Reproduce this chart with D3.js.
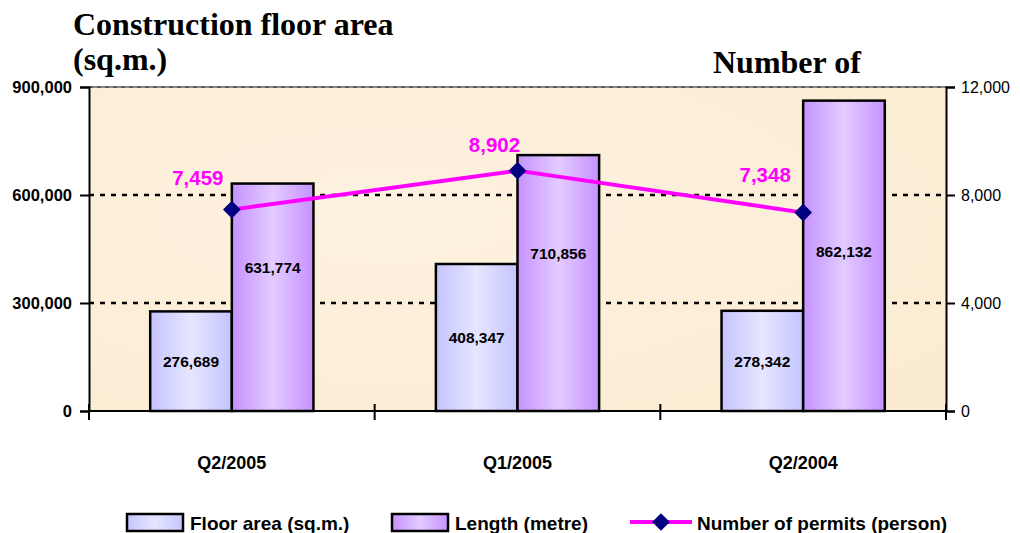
<!DOCTYPE html>
<html>
<head>
    <title>Construction floor area - D3.js</title>
    <script src="https://d3js.org/d3.v7.min.js"></script>
    <style>
        body { margin: 0; background: #fff; }
        .axis text { font-family: Arial, "Liberation Sans", sans-serif; font-size: 16px; fill: #000; }
        .y-left text { font-weight: bold; font-size: 16.5px; }
        .axis path, .axis line { stroke: #000; stroke-width: 2; }
        .title { font-family: "Liberation Serif", "Times New Roman", serif; font-size: 32px; font-weight: bold; }
        .cat { font-family: Arial, "Liberation Sans", sans-serif; font-size: 18px; font-weight: bold; text-anchor: middle; }
        .barlabel { font-family: Arial, "Liberation Sans", sans-serif; font-size: 15.5px; font-weight: bold; text-anchor: middle; }
        .linelabel { font-family: Arial, "Liberation Sans", sans-serif; font-size: 20.5px; font-weight: bold; fill: #ff00ff; text-anchor: middle; }
        .legend text { font-family: Arial, "Liberation Sans", sans-serif; font-size: 19px; font-weight: bold; }
    </style>
</head>
<body>
<div id="chart"></div>
<script>
    // data
    const categories = ["Q2/2005", "Q1/2005", "Q2/2004"];
    const floorArea = [276689, 408347, 278342];
    const lengthMetre = [631774, 710856, 862132];
    const permits = [7459, 8902, 7348];
    const leftTicks = [0, 300000, 600000, 900000];
    const rightTicks = [0, 4000, 8000, 12000];
    const seriesNames = ["Floor area (sq.m.)", "Length (metre)", "Number of permits (person)"];

    const W = 1020, H = 533;
    const margin = { top: 87, right: 74, bottom: 122, left: 89 };
    const width = W - margin.left - margin.right;
    const height = H - margin.top - margin.bottom;

    const svgRoot = d3.select("#chart").append("svg")
        .attr("width", W).attr("height", H);

    const defs = svgRoot.append("defs");
    function hGrad(id, edge, mid) {
        const g = defs.append("linearGradient").attr("id", id)
            .attr("x1", "0%").attr("x2", "100%").attr("y1", "0%").attr("y2", "0%");
        g.append("stop").attr("offset", "0%").attr("stop-color", edge);
        g.append("stop").attr("offset", "50%").attr("stop-color", mid);
        g.append("stop").attr("offset", "100%").attr("stop-color", edge);
    }
    hGrad("gFloor", "#c4c4ff", "#e6e6ff");
    hGrad("gLength", "#c592ff", "#e3cbff");
    // soft paper look for the plot area
    const bg = defs.append("radialGradient").attr("id", "gBg")
        .attr("cx", "35%").attr("cy", "40%").attr("r", "80%");
    bg.append("stop").attr("offset", "0%").attr("stop-color", "#fdf2e0");
    bg.append("stop").attr("offset", "100%").attr("stop-color", "#fbebd2");

    // titles
    svgRoot.append("text").attr("class", "title").attr("x", 73).attr("y", 35).text("Construction floor area");
    svgRoot.append("text").attr("class", "title").attr("x", 73).attr("y", 70).text("(sq.m.)");
    svgRoot.append("text").attr("class", "title").attr("x", 713).attr("y", 73).text("Number of");

    const svg = svgRoot.append("g").attr("transform", `translate(${margin.left},${margin.top})`);

    const x0 = d3.scaleBand().domain(categories).range([0, width]);
    const x1 = d3.scaleBand().domain(["floor", "length"]).range([0, x0.bandwidth()]).paddingInner(0).paddingOuter(0.75);
    const yL = d3.scaleLinear().domain([0, 900000]).range([height, 0]);
    const yR = d3.scaleLinear().domain([0, 12000]).range([height, 0]);

    // plot background
    svg.append("rect").attr("width", width).attr("height", height).attr("fill", "url(#gBg)");

    // top border (grey) and dashed gridlines
    svg.append("line").attr("x1", 0).attr("x2", width).attr("y1", 0).attr("y2", 0)
        .attr("stroke", "#888").attr("stroke-width", 2);
    svg.append("line").attr("x1", 0).attr("x2", width).attr("y1", 0).attr("y2", 0)
        .attr("stroke", "#333").attr("stroke-width", 1).attr("stroke-dasharray", "4,4");
    svg.selectAll(".grid").data(leftTicks.filter(d => d > 0 && d < 900000)).enter()
        .append("line").attr("class", "grid")
        .attr("x1", 0).attr("x2", width)
        .attr("y1", d => yL(d)).attr("y2", d => yL(d))
        .attr("stroke", "#000").attr("stroke-width", 2.5).attr("stroke-dasharray", "5,6");

    // bars
    const groups = svg.selectAll(".grp").data(categories).enter().append("g")
        .attr("transform", d => `translate(${x0(d)},0)`);
    groups.append("rect")
        .attr("x", x1("floor")).attr("width", x1.bandwidth())
        .attr("y", (d, i) => yL(floorArea[i])).attr("height", (d, i) => height - yL(floorArea[i]))
        .attr("fill", "url(#gFloor)").attr("stroke", "#000").attr("stroke-width", 2.5);
    groups.append("rect")
        .attr("x", x1("length")).attr("width", x1.bandwidth())
        .attr("y", (d, i) => yL(lengthMetre[i])).attr("height", (d, i) => height - yL(lengthMetre[i]))
        .attr("fill", "url(#gLength)").attr("stroke", "#000").attr("stroke-width", 2.5);

    // bar value labels
    groups.append("text").attr("class", "barlabel")
        .attr("x", x1("floor") + x1.bandwidth() / 2)
        .attr("y", (d, i) => yL(floorArea[i] / 2) + 6)
        .text((d, i) => d3.format(",")(floorArea[i]));
    const lenLift = [30, 30, 5];
    groups.append("text").attr("class", "barlabel")
        .attr("x", x1("length") + x1.bandwidth() / 2)
        .attr("y", (d, i) => yL(lengthMetre[i] / 2) + 6 - lenLift[i])
        .text((d, i) => d3.format(",")(lengthMetre[i]));

    // axes
    svg.append("g").attr("class", "axis y-left")
        .call(d3.axisLeft(yL).tickValues(leftTicks).tickFormat(d3.format(",")).tickSize(9).tickPadding(8));
    svg.append("g").attr("class", "axis y-right").attr("transform", `translate(${width},0)`)
        .call(d3.axisRight(yR).tickValues(rightTicks).tickFormat(d3.format(",")).tickSize(9).tickPadding(6));
    const xAxis = svg.append("g").attr("class", "axis x").attr("transform", `translate(0,${height})`);
    xAxis.append("line").attr("x1", 0).attr("x2", width).attr("stroke", "#000").attr("stroke-width", 2);
    xAxis.selectAll(".xt").data(d3.range(categories.length + 1)).enter().append("line")
        .attr("x1", i => i * x0.step()).attr("x2", i => i * x0.step())
        .attr("y1", -7).attr("y2", 9).attr("stroke", "#000").attr("stroke-width", 2);
    svg.selectAll(".cat").data(categories).enter().append("text").attr("class", "cat")
        .attr("x", d => x0(d) + x0.bandwidth() / 2).attr("y", height + 58).text(d => d);

    // permits line
    const cx = d => x0(d) + x0.bandwidth() / 2;
    const line = d3.line().x((d, i) => cx(categories[i])).y(d => yR(d));
    svg.append("path").datum(permits).attr("d", line)
        .attr("fill", "none").attr("stroke", "#ff00ff").attr("stroke-width", 4);
    svg.selectAll(".mk").data(permits).enter().append("path")
        .attr("d", d3.symbol(d3.symbolDiamond2, 200))
        .attr("transform", (d, i) => `translate(${cx(categories[i])},${yR(d)})`)
        .attr("fill", "#000080");
    const lblDx = [-34, -23, -38];
    const lblDy = [-25, -19, -31];
    svg.selectAll(".linelabel").data(permits).enter().append("text").attr("class", "linelabel")
        .attr("x", (d, i) => cx(categories[i]) + lblDx[i])
        .attr("y", (d, i) => yR(d) + lblDy[i])
        .text(d => d3.format(",")(d));

    // legend
    const lg = svgRoot.append("g").attr("class", "legend");
    const items = [
        { x: 127, type: "rect", fill: "url(#gFloor)" },
        { x: 392, type: "rect", fill: "url(#gLength)" },
        { x: 630, type: "line" }
    ];
    items.forEach((it, i) => {
        const g = lg.append("g").attr("transform", `translate(${it.x},522)`);
        if (it.type === "rect") {
            g.append("rect").attr("x", 0).attr("y", -8).attr("width", 56).attr("height", 17)
                .attr("fill", it.fill).attr("stroke", "#000").attr("stroke-width", 2.5);
            g.append("text").attr("x", 63).attr("y", 8).text(seriesNames[i]);
        } else {
            g.append("line").attr("x1", 0).attr("x2", 62).attr("stroke", "#ff00ff").attr("stroke-width", 4);
            g.append("path").attr("d", d3.symbol(d3.symbolDiamond2, 200))
                .attr("transform", "translate(31,0)").attr("fill", "#000080");
            g.append("text").attr("x", 67).attr("y", 8).text(seriesNames[i]);
        }
    });
</script>
</body>
</html>
